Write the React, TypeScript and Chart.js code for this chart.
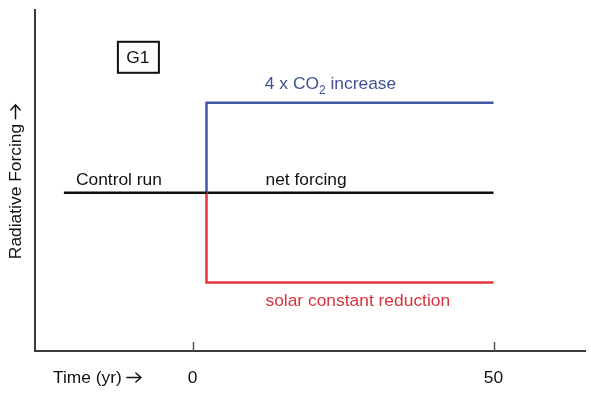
import React, { useEffect, useRef } from "react";
import { Chart, registerables } from "chart.js";

Chart.register(...registerables);

// ---- data ----
const controlTime = [-21.4, 2.3];
const controlForcing = [0, 0];
const netTime = [2.3, 50];
const netForcing = [0, 0];
const co2Time = [2.3, 2.3, 50];
const co2Forcing = [0, 1, 1];
const solarTime = [2.3, 2.3, 50];
const solarForcing = [0, -1, -1];
const xTickValues = [0, 50];
const xTickLabels = ["0", "50"];

const FONT = '"Liberation Sans", Arial, Helvetica, sans-serif';
const FS = 17.4;
const BLUE = "#4058a6";
const RED = "#e2343f";
const BLUE_TEXT = "#3f5393";
const RED_TEXT = "#d8333c";
const ARROW_GAP = 5;
const ARROW_LEN = 14;

const toPoints = (xs: number[], ys: number[]) => xs.map((x, i) => ({ x, y: ys[i] }));

const drawArrow = (ctx: CanvasRenderingContext2D, x: number, y: number) => {
  ctx.save();
  ctx.strokeStyle = ctx.fillStyle as string;
  ctx.lineWidth = 1.5;
  ctx.lineCap = "round";
  ctx.beginPath();
  ctx.moveTo(x, y);
  ctx.lineTo(x + ARROW_LEN, y);
  ctx.moveTo(x + ARROW_LEN - 5, y - 4.5);
  ctx.lineTo(x + ARROW_LEN, y);
  ctx.lineTo(x + ARROW_LEN - 5, y + 4.5);
  ctx.stroke();
  ctx.restore();
};

const drawWithArrow = (ctx: CanvasRenderingContext2D, t: string, x: number, y: number) => {
  ctx.font = `${FS}px ${FONT}`;
  ctx.fillText(t, x, y);
  const w = ctx.measureText(t).width;
  drawArrow(ctx, x + w + ARROW_GAP, y - 0.5);
};
const widthWithArrow = (ctx: CanvasRenderingContext2D, t: string) => {
  ctx.font = `${FS}px ${FONT}`;
  return ctx.measureText(t).width + ARROW_GAP + ARROW_LEN;
};

const annotationPlugin = {
  id: "annot",
  afterDraw(chart: any) {
    const { ctx, scales } = chart;
    const xs = scales.x;
    const ys = scales.y;
    const px = (v: number) => xs.getPixelForValue(v);
    const py = (v: number) => ys.getPixelForValue(v);
    ctx.save();
    // inward tick marks
    ctx.strokeStyle = "#555";
    ctx.lineWidth = 1.5;
    xTickValues.forEach((v) => {
      const x = Math.round(px(v)) + 0.5;
      ctx.beginPath();
      ctx.moveTo(x, xs.top - 9);
      ctx.lineTo(x, xs.top);
      ctx.stroke();
    });

    ctx.font = `${FS}px ${FONT}`;
    ctx.textBaseline = "middle";
    ctx.textAlign = "left";
    const text = (t: string, xv: number, yv: number, color: string) => {
      ctx.fillStyle = color;
      ctx.fillText(t, px(xv), py(yv));
    };
    text("Control run", -19.4, 0.133, "#111");
    text("net forcing", 12.1, 0.133, "#111");
    text("solar constant reduction", 12.1, -1.21, RED_TEXT);

    // 4 x CO2 increase with subscript
    let cx = px(12.0);
    const cy = py(1.2);
    ctx.fillStyle = BLUE_TEXT;
    const p1 = "4 x CO";
    ctx.fillText(p1, cx, cy);
    cx += ctx.measureText(p1).width;
    ctx.font = `12px ${FONT}`;
    ctx.fillText("2", cx, cy + 6);
    cx += ctx.measureText("2").width;
    ctx.font = `${FS}px ${FONT}`;
    ctx.fillText(" increase", cx, cy);

    // G1 box
    const gx = px(-9.1);
    const gy = py(1.51);
    ctx.strokeStyle = "#111";
    ctx.lineWidth = 2;
    ctx.strokeRect(gx - 20, gy - 15, 41, 31);
    ctx.fillStyle = "#111";
    ctx.textAlign = "center";
    ctx.fillText("G1", gx, gy + 1);

    // x axis title
    ctx.textAlign = "left";
    ctx.fillStyle = "#111";
    drawWithArrow(ctx, "Time (yr)", 53, 378);

    // y axis title (rotated)
    const yt = "Radiative Forcing";
    const tw = widthWithArrow(ctx, yt);
    ctx.translate(16, 182);
    ctx.rotate(-Math.PI / 2);
    drawWithArrow(ctx, yt, -tw / 2, 0);
    ctx.restore();
  },
};

export default function App() {
  const ref = useRef<HTMLCanvasElement>(null);
  useEffect(() => {
    if (!ref.current) return;
    const chart = new Chart(ref.current, {
      type: "line",
      data: {
        datasets: [
          {
            label: "Control run",
            data: toPoints(controlTime, controlForcing),
            borderColor: "#111",
            borderWidth: 2.5,
            pointRadius: 0,
          },
          {
            label: "4 x CO2 increase",
            data: toPoints(co2Time, co2Forcing),
            borderColor: BLUE,
            borderWidth: 2.5,
            pointRadius: 0,
          },
          {
            label: "solar constant reduction",
            data: toPoints(solarTime, solarForcing),
            borderColor: RED,
            borderWidth: 2.5,
            pointRadius: 0,
          },
          {
            label: "net forcing",
            data: toPoints(netTime, netForcing),
            borderColor: "#111",
            borderWidth: 2.5,
            pointRadius: 0,
          },
        ],
      },
      options: {
        animation: false,
        responsive: false,
        layout: { padding: { left: 0, top: 10, right: 6, bottom: 0 } },
        plugins: { legend: { display: false }, tooltip: { enabled: false } },
        scales: {
          x: {
            type: "linear",
            min: -26.2,
            max: 65.2,
            grid: { display: false, drawTicks: false },
            border: { display: true, color: "#3a3a3a", width: 2 },
            afterBuildTicks: (scale: any) => {
              scale.ticks = xTickValues.map((v) => ({ value: v }));
            },
            afterFit: (scale: any) => {
              scale.height = 45;
            },
            ticks: {
              padding: 17,
              color: "#111",
              font: { family: FONT, size: FS },
              callback: (v: any) => {
                const i = xTickValues.indexOf(Number(v));
                return i >= 0 ? xTickLabels[i] : "";
              },
            },
          },
          y: {
            type: "linear",
            min: -1.76,
            max: 2.03,
            grid: { display: false, drawTicks: false },
            border: { display: true, color: "#3a3a3a", width: 2 },
            ticks: { display: false },
            afterFit: (scale: any) => {
              scale.width = 35;
            },
          },
        },
      },
      plugins: [annotationPlugin],
    });
    return () => chart.destroy();
  }, []);
  return (
    <div style={{ position: "fixed", left: 0, top: 0, width: 591, height: 396, background: "#fff" }}>
      <canvas ref={ref} width={591} height={396} style={{ display: "block" }} />
    </div>
  );
}
